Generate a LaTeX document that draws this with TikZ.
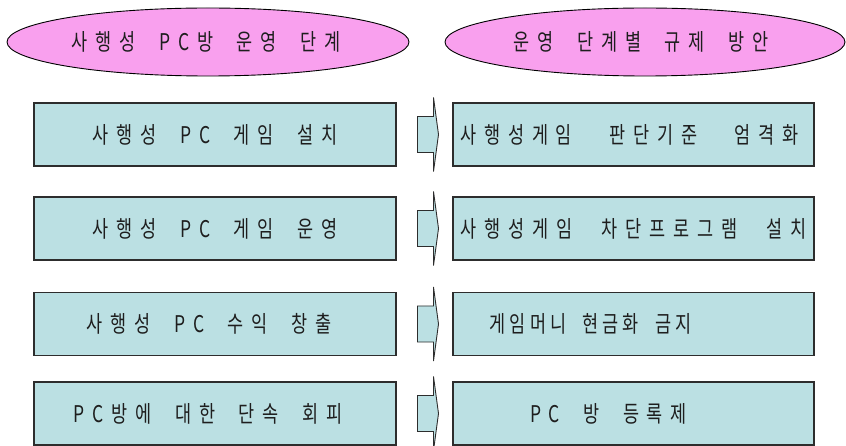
\documentclass[tikz,border=0pt]{standalone}
\usepackage{fontspec}
\usetikzlibrary{shapes.geometric,calc}
\newfontfamily\kr[FakeStretch=0.76,LetterSpace=34,WordSpace=2]{Noto Sans CJK KR}
\definecolor{pinkfill}{RGB}{249,160,238}
\definecolor{boxfill}{RGB}{187,224,227}
\definecolor{boxline}{RGB}{45,45,45}
\definecolor{txt}{RGB}{30,30,30}
\newcommand{\nowidth}[1]{\makebox[0pt][c]{#1}}
\tikzset{
  oval/.style={ellipse, draw=black, line width=0.9pt, fill=pinkfill, inner sep=0pt,
    minimum width=402pt, minimum height=68pt, text=txt, font=\kr\fontsize{23}{27}\selectfont},
  stagebox/.style={rectangle, draw=boxline, line width=1.2pt, fill=boxfill, inner sep=0pt,
    minimum width=362pt, minimum height=63pt, text=txt, font=\kr\fontsize{23}{27}\selectfont},
  flow/.style={draw=boxline, line width=0.9pt, fill=boxfill, line join=miter}
}
\begin{document}
\begin{tikzpicture}[x=1pt,y=-1pt]
\useasboundingbox (0,0) rectangle (846,446);
% headers
\node[oval] (h1) at (208,42) {\nowidth{사행성 PC방 운영 단계\hspace*{4pt}}};
\node[oval, minimum width=400pt] (h2) at (645,42) {\nowidth{운영 단계별 규제 방안\hspace*{8pt}}};
% left column
\node[stagebox] (l1) at (215,134.5) {사행성 PC 게임 설치};
\node[stagebox] (l2) at (215,228.5) {사행성 PC 게임 운영};
\node[stagebox] (l3) at (215,324) {사행성 PC 수익 창출\hspace*{12pt}};
\node[stagebox] (l4) at (215,413.5) {PC방에 대한 단속 회피\hspace*{14pt}};
% right column
\node[stagebox, minimum width=361pt] (r1) at (633.5,134.5) {\nowidth{사행성게임 \hspace{14pt}판단기준 \hspace{14pt}엄격화\hspace*{8pt}}};
\node[stagebox, minimum width=361pt] (r2) at (633.5,228.5) {\nowidth{사행성게임 \hspace{6pt}차단프로그램 \hspace{6pt}설치}};
\node[stagebox, minimum width=361pt] (r3) at (633.5,324) {\addfontfeature{LetterSpace=18}게임머니 현금화 금지\hspace*{86pt}};
\node[stagebox, minimum width=361pt] (r4) at (633.5,413.5) {PC 방 등록제\hspace*{50pt}};
% block arrows
\foreach \i in {1,2,3,4}{
  \coordinate (c\i) at ($(l\i.east)!0.5!(r\i.west)$);
}
\foreach \i in {1,2,3,4}{
  \draw[flow] (c\i) ++(-7,-18) -- ++(16,0) -- ++(0,-19) -- ++(5,37) -- ++(-5,37)
     -- ++(0,-19) -- ++(-16,0) -- cycle;
}
\end{tikzpicture}
\end{document}
